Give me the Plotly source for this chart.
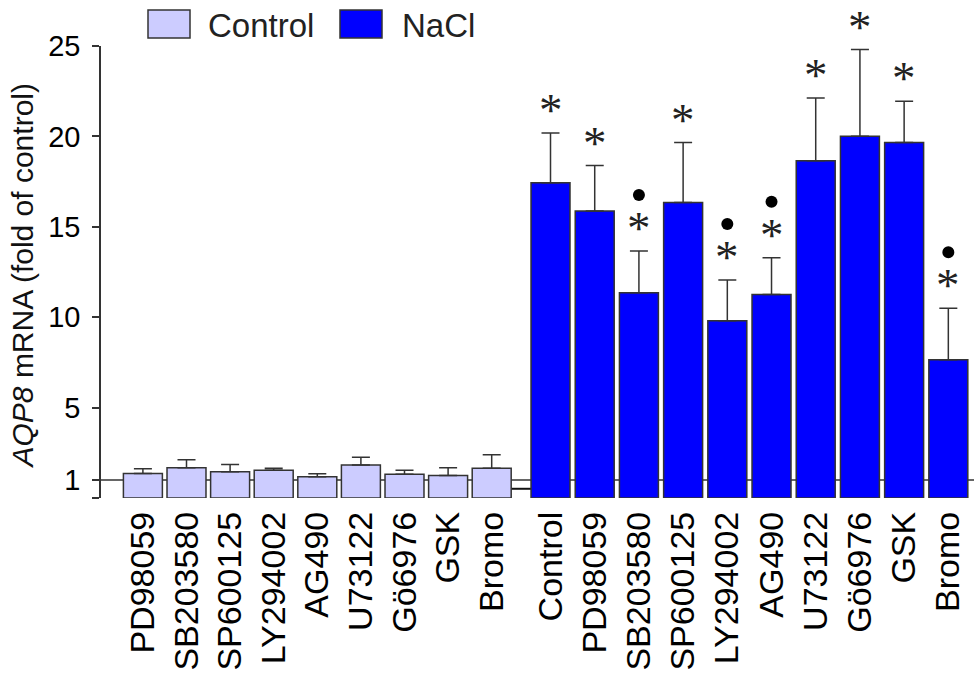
import plotly.graph_objects as go

# ---------------- data ----------------
ctrl_labels = ["PD98059", "SB203580", "SP600125", "LY294002", "AG490",
               "U73122", "Gö6976", "GSK", "Bromo"]
nacl_labels = ["Control", "PD98059", "SB203580", "SP600125", "LY294002",
               "AG490", "U73122", "Gö6976", "GSK", "Bromo"]
ctrl_values = [1.36, 1.68, 1.45, 1.53, 1.17, 1.83, 1.32, 1.24, 1.64]
ctrl_err = [0.26, 0.43, 0.40, 0.11, 0.17, 0.43, 0.21, 0.44, 0.75]
nacl_values = [17.43, 15.88, 11.35, 16.35, 9.81, 11.26, 18.65, 20.01, 19.66, 7.64]
nacl_err = [2.76, 2.51, 2.31, 3.31, 2.25, 2.03, 3.48, 4.79, 2.28, 2.85]
nacl_star = [True, True, True, True, True, True, True, True, True, True]
nacl_dot = [False, False, True, False, True, True, False, False, False, True]
y_tickvals = [0, 1, 5, 10, 15, 20, 25]
y_ticktext = ["", "1", "5", "10", "15", "20", "25"]
series_names = ["Control", "NaCl"]

# ---------------- layout constants ----------------
W, H = 974, 676
L, R, T, B = 101, 0, 46, 178
PW, PH = W - L - R, H - T - B
CTRL_FILL, NACL_FILL = "#ccccff", "#0000ff"
EDGE = "#333333"
FONT = "Liberation Sans, Arial, sans-serif"

ctrl_pos = [float(i) for i in range(len(ctrl_labels))]
nacl_start, nacl_step = 9.349, 1.0138
nacl_pos = [nacl_start + nacl_step * j for j in range(len(nacl_labels))]
bar_w = 0.894
x_range = [-0.961, 19.062]


def px_x(px):
    return (px - L) / PW


def px_y(py):
    return (H - B - py) / PH


fig = go.Figure()

fig.add_trace(go.Bar(
    x=ctrl_pos, y=ctrl_values, width=bar_w, name=series_names[0],
    marker=dict(color=CTRL_FILL, line=dict(color=EDGE, width=1.5)),
    error_y=dict(type="data", symmetric=False, array=ctrl_err,
                 arrayminus=[0] * len(ctrl_err), color=EDGE, thickness=1.5, width=9),
    showlegend=False,
))
fig.add_trace(go.Bar(
    x=nacl_pos, y=nacl_values, width=bar_w, name=series_names[1],
    marker=dict(color=NACL_FILL, line=dict(color=EDGE, width=1.5)),
    error_y=dict(type="data", symmetric=False, array=nacl_err,
                 arrayminus=[0] * len(nacl_err), color=EDGE, thickness=1.5, width=9),
    showlegend=False,
))

shapes = []
annotations = []

# reference line at 1
shapes.append(dict(type="line", xref="paper", yref="y", x0=0, x1=1, y0=1, y1=1,
                   line=dict(color=EDGE, width=1.5), layer="below"))
# small segment between the groups
shapes.append(dict(type="line", xref="x", yref="y",
                   x0=ctrl_pos[-1] + bar_w / 2, x1=nacl_pos[0] - bar_w / 2,
                   y0=0.51, y1=0.51, line=dict(color="#111111", width=2), layer="below"))

# significance marks
for p, v, e, s, d in zip(nacl_pos, nacl_values, nacl_err, nacl_star, nacl_dot):
    top = v + e
    if s:
        annotations.append(dict(x=p, y=top, xref="x", yref="y", text="*",
                                showarrow=False, yanchor="middle", yshift=23,
                                font=dict(family="Liberation Serif, Times New Roman, serif",
                                          size=47, color="#222222")))
    if d:
        shapes.append(dict(type="circle", xref="x", yref="y",
                           xsizemode="pixel", ysizemode="pixel",
                           xanchor=p, yanchor=top, x0=-6, x1=6, y0=50, y1=62,
                           fillcolor="black", line=dict(width=0)))

# manual legend
leg = [(148, 190, CTRL_FILL, 206, series_names[0]),
       (340, 382, NACL_FILL, 400, series_names[1])]
for x0, x1, col, tx, name in leg:
    shapes.append(dict(type="rect", xref="paper", yref="paper",
                       x0=px_x(x0), x1=px_x(x1), y0=px_y(38), y1=px_y(10),
                       fillcolor=col, line=dict(color=EDGE, width=1.5)))
    annotations.append(dict(x=px_x(tx), y=px_y(25), xref="paper", yref="paper",
                            text=name, showarrow=False, xanchor="left", yanchor="middle",
                            font=dict(family=FONT, size=33, color="#222222")))

# y axis title
annotations.append(dict(x=px_x(21.5), y=px_y(276), xref="paper", yref="paper",
                        text="<i>AQP8</i> mRNA (fold of control)", textangle=-90,
                        showarrow=False, xanchor="center", yanchor="middle",
                        font=dict(family=FONT, size=30, color="#111111")))

fig.update_layout(
    width=W, height=H,
    margin=dict(l=L, r=R, t=T, b=B, pad=0),
    paper_bgcolor="white", plot_bgcolor="white",
    barmode="overlay",
    showlegend=False,
    shapes=shapes, annotations=annotations,
    xaxis=dict(range=x_range, showgrid=False, zeroline=False, showline=False,
               tickvals=ctrl_pos + nacl_pos, ticktext=ctrl_labels + nacl_labels,
               tickangle=-90, ticks="", ticklabelstandoff=6,
               tickfont=dict(family=FONT, size=34, color="black")),
    yaxis=dict(range=[0, 25], showgrid=False, zeroline=False, showline=True,
               linecolor=EDGE, linewidth=1.5, ticks="outside", ticklen=7,
               tickwidth=1.5, tickcolor=EDGE,
               tickvals=y_tickvals, ticktext=y_ticktext, ticklabelstandoff=6,
               tickfont=dict(family=FONT, size=29, color="black")),
)

fig.write_html("out.html", config={"displayModeBar": False},
               post_script="document.body.style.margin='0px';document.body.style.padding='0px';")
